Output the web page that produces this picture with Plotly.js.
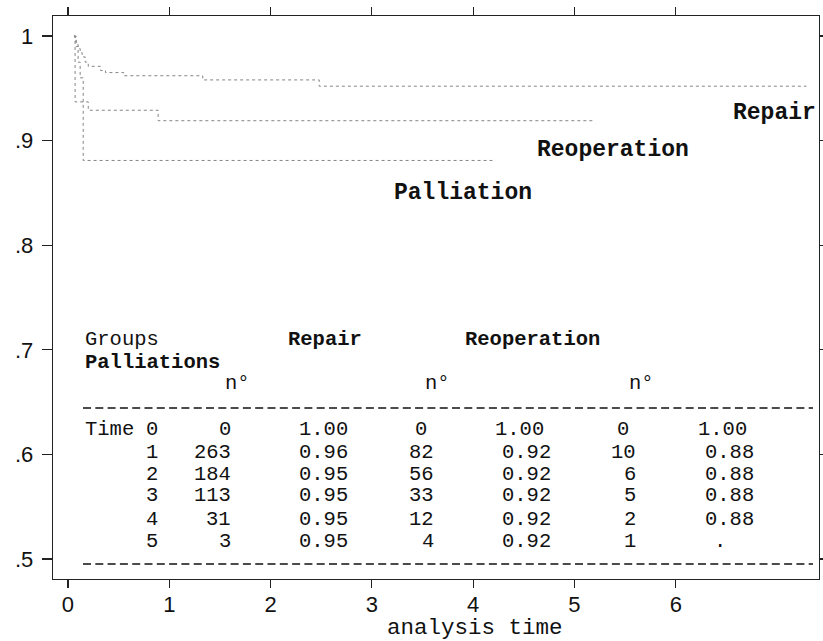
<!DOCTYPE html>
<html>
<head>
<meta charset="utf-8">
<script src="https://cdn.plot.ly/plotly-3.0.1.min.js"></script>
<style>html,body{margin:0;padding:0;background:#fff;}#chart{width:823px;height:641px;}</style>
</head>
<body>
<div id="chart"></div>
<script>
// Kaplan-Meier step curves (time in years, survival probability)
const repairTime = [0.06, 0.07, 0.08, 0.10, 0.12, 0.14, 0.17, 0.20, 0.32, 0.37, 0.55, 1.33, 2.48, 7.29];
const repairSurv = [1.000, 0.996, 0.992, 0.988, 0.984, 0.980, 0.975, 0.971, 0.967, 0.965, 0.962, 0.958, 0.952, 0.952];
const reopTime = [0.06, 0.08, 0.10, 0.12, 0.15, 0.20, 0.89, 5.20];
const reopSurv = [1.000, 0.990, 0.975, 0.960, 0.937, 0.929, 0.919, 0.919];
const pallTime = [0.06, 0.07, 0.15, 4.19];
const pallSurv = [1.000, 0.937, 0.881, 0.881];

// Curve labels
const curveLabels = ['Repair', 'Reoperation', 'Palliation'];

// Table
const groupNames = ['Repair', 'Reoperation', 'Palliations'];
const tableTime = [0, 1, 2, 3, 4, 5];
const repairN = [0, 263, 184, 113, 31, 3];
const repairS = [1.00, 0.96, 0.95, 0.95, 0.95, 0.95];
const reopN = [0, 82, 56, 33, 12, 4];
const reopS = [1.00, 0.92, 0.92, 0.92, 0.92, 0.92];
const pallN = [0, 10, 6, 5, 2, 1];
const pallS = [1.00, 0.88, 0.88, 0.88, 0.88, null];

// Axis ticks
const xTicks = [0, 1, 2, 3, 4, 5, 6];
const yTickVals = [0.5, 0.6, 0.7, 0.8, 0.9, 1.0];
const yTickText = ['.5', '.6', '.7', '.8', '.9', '1'];

const L = 53, T = 16, W = 766, H = 563;
const px = v => (v - L) / W;
const py = v => 1 - (v - T) / H;

const lineStyle = {color: '#858585', width: 1, dash: 'dot'};
const traces = [
  {x: repairTime, y: repairSurv, name: 'Repair'},
  {x: reopTime, y: reopSurv, name: 'Reoperation'},
  {x: pallTime, y: pallSurv, name: 'Palliation'}
].map(t => Object.assign(t, {type: 'scatter', mode: 'lines', line: Object.assign({shape: 'hv'}, lineStyle), hoverinfo: 'skip'}));

const mono = 'Liberation Mono, Courier New, monospace';
const ann = [];
function txt(text, x, y, anchor, size, bold) {
  ann.push({text: bold ? '<b>' + text + '</b>' : text, xref: 'paper', yref: 'paper', x: px(x), y: py(y),
    xanchor: anchor, yanchor: 'middle', showarrow: false,
    font: {family: mono, size: size, color: '#111'}});
}
// Curve labels
txt(curveLabels[0], 818, 113, 'right', 23, true);
txt(curveLabels[1], 535, 150, 'left', 23, true);
txt(curveLabels[2], 392, 193, 'left', 23, true);

// Table header
const ts = 20.5;
txt('Groups', 83, 339, 'left', ts, false);
txt(groupNames[0], 286, 339, 'left', ts, true);
txt(groupNames[1], 463, 339, 'left', ts, true);
txt(groupNames[2], 83, 362, 'left', ts, true);
txt('n°', 223, 383, 'left', ts, false);
txt('n°', 423, 383, 'left', ts, false);
txt('n°', 627, 383, 'left', ts, false);

const rowY = [429, 452, 474, 496, 519, 541];
tableTime.forEach((t, i) => {
  const y = rowY[i];
  if (i === 0) txt('Time', 83, y, 'left', ts, false);
  txt(String(t), 152, y, 'center', ts, false);
  txt(String(repairN[i]), 233, y, 'right', ts, false);
  txt(repairS[i].toFixed(2), 297, y, 'left', ts, false);
  txt(String(reopN[i]), i === 0 ? 429 : 436, y, 'right', ts, false);
  txt(reopS[i].toFixed(2), i === 0 ? 493 : 500, y, 'left', ts, false);
  txt(String(pallN[i]), i === 0 ? 631 : 638, y, 'right', ts, false);
  if (pallS[i] === null) txt('.', 720, y, 'center', ts, false);
  else txt(pallS[i].toFixed(2), i === 0 ? 696 : 703, y, 'left', ts, false);
});

// x axis title
ann.push({text: 'analysis time', xref: 'paper', yref: 'paper', x: px(475), y: py(628),
  xanchor: 'center', yanchor: 'middle', showarrow: false,
  font: {family: mono, size: 22.5, color: '#111'}});

const dashed = y => ({type: 'line', xref: 'paper', yref: 'paper', x0: px(83), x1: px(813), y0: py(y), y1: py(y),
  line: {color: '#111', width: 1.5, dash: '8px,4.3px'}});

const axisCommon = {showgrid: false, zeroline: false, showline: true, linecolor: '#222', linewidth: 1.3,
  ticks: 'outside', ticklen: 10, tickwidth: 1.2, tickcolor: '#222', mirror: 'ticks',
  tickfont: {family: 'Liberation Sans Narrow, Liberation Sans, Arial, sans-serif', size: 22, color: '#111'}};

const layout = {
  width: 823, height: 641,
  margin: {l: L, r: 823 - L - W, t: T, b: 641 - T - H},
  paper_bgcolor: '#fff', plot_bgcolor: '#fff',
  showlegend: false,
  xaxis: Object.assign({}, axisCommon, {range: [-0.148, 7.414], tickvals: xTicks, ticktext: xTicks.map(String), ticklen: 8, ticklabelstandoff: -3}),
  yaxis: Object.assign({}, axisCommon, {range: [0.4809, 1.0191], tickvals: yTickVals, ticktext: yTickText, ticklabelstandoff: 4}),
  annotations: ann,
  shapes: [dashed(408), dashed(564)]
};

Plotly.newPlot('chart', traces, layout, {displayModeBar: false, staticPlot: true});
</script>
</body>
</html>
